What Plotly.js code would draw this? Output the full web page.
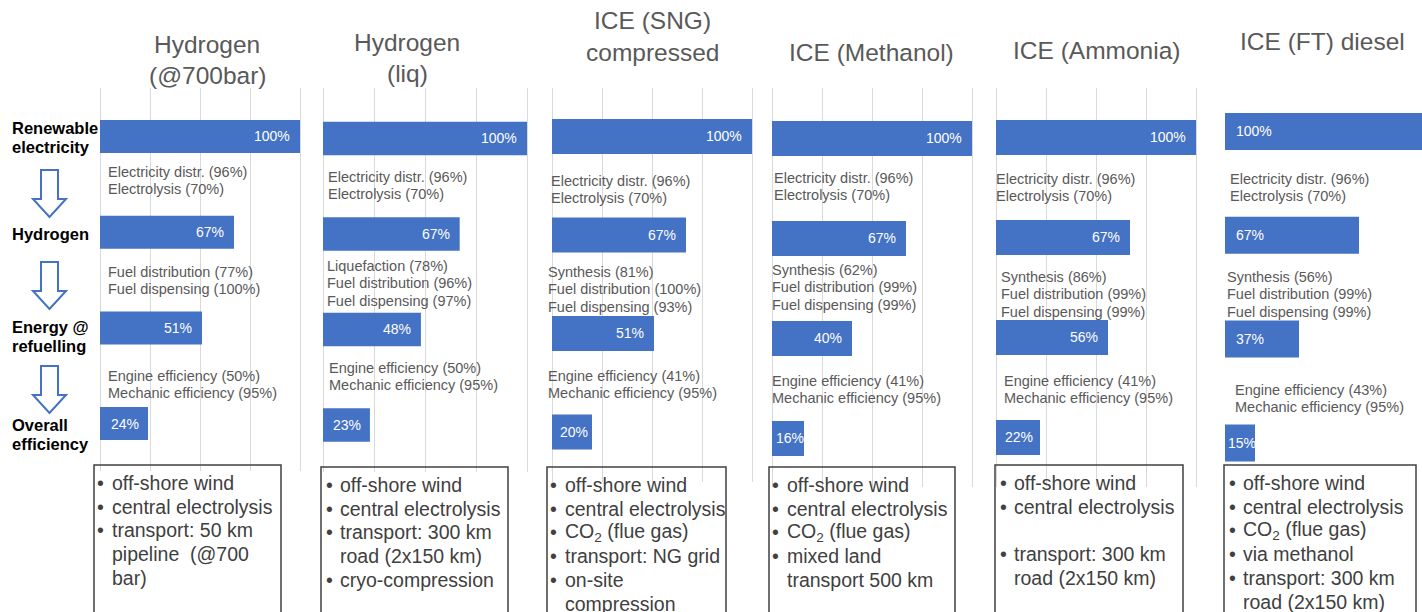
<!DOCTYPE html>
<html>
<head>
<meta charset="utf-8">
<script src="https://cdn.plot.ly/plotly-3.0.1.min.js"></script>
<style>
  html, body { margin: 0; padding: 0; background: #fff; }
  #chart { width: 1422px; height: 612px; }
</style>
</head>
<body>
<div id="chart"></div>
<script>
// Stages of the energy chain, top to bottom
const stages = ['Renewable electricity', 'Hydrogen', 'Energy @ refuelling', 'Overall efficiency'];
const stageLabelLines = [['Renewable', 'electricity'], ['Hydrogen'], ['Energy @', 'refuelling'], ['Overall', 'efficiency']];

// Pathway headings
const pathwayTitles = [
  ['Hydrogen', '(@700bar)'],
  ['Hydrogen', '(liq)'],
  ['ICE (SNG)', 'compressed'],
  ['ICE (Methanol)'],
  ['ICE (Ammonia)'],
  ['ICE (FT) diesel']
];

// Share of the renewable electricity left at each stage (%)
const effH2Compressed = [100, 67, 51, 24];
const effH2Liquid     = [100, 67, 48, 23];
const effSNG          = [100, 67, 51, 20];
const effMethanol     = [100, 67, 40, 16];
const effAmmonia      = [100, 67, 56, 22];
const effFTDiesel     = [100, 67, 37, 15];

// Conversion steps between the stages
const stepsElectrolysis = ['Electricity distr. (96%)', 'Electrolysis (70%)'];
const stepsH2Compressed = ['Fuel distribution (77%)', 'Fuel dispensing (100%)'];
const stepsH2Liquid     = ['Liquefaction (78%)', 'Fuel distribution (96%)', 'Fuel dispensing (97%)'];
const stepsSNG          = ['Synthesis (81%)', 'Fuel distribution (100%)', 'Fuel dispensing (93%)'];
const stepsMethanol     = ['Synthesis (62%)', 'Fuel distribution (99%)', 'Fuel dispensing (99%)'];
const stepsAmmonia      = ['Synthesis (86%)', 'Fuel distribution (99%)', 'Fuel dispensing (99%)'];
const stepsFTDiesel     = ['Synthesis (56%)', 'Fuel distribution (99%)', 'Fuel dispensing (99%)'];
const stepsFuelCell     = ['Engine efficiency (50%)', 'Mechanic efficiency (95%)'];
const stepsEngine41     = ['Engine efficiency (41%)', 'Mechanic efficiency (95%)'];
const stepsEngine43     = ['Engine efficiency (43%)', 'Mechanic efficiency (95%)'];

// Assumptions of each pathway (null = empty line)
const notesH2Compressed = [['off-shore wind'], ['central electrolysis'], ['transport: 50 km', 'pipeline  (@700', 'bar)']];
const notesH2Liquid     = [['off-shore wind'], ['central electrolysis'], ['transport: 300 km', 'road (2x150 km)'], ['cryo-compression']];
const notesSNG          = [['off-shore wind'], ['central electrolysis'], ['CO<sub>2</sub> (flue gas)'], ['transport: NG grid'], ['on-site', 'compression']];
const notesMethanol     = [['off-shore wind'], ['central electrolysis'], ['CO<sub>2</sub> (flue gas)'], ['mixed land', 'transport 500 km']];
const notesAmmonia      = [['off-shore wind'], ['central electrolysis'], null, ['transport: 300 km', 'road (2x150 km)']];
const notesFTDiesel     = [['off-shore wind'], ['central electrolysis'], ['CO<sub>2</sub> (flue gas)'], ['via methanol'], ['transport: 300 km', 'road (2x150 km)']];

const pathways = [
  { values: effH2Compressed, steps: [stepsElectrolysis, stepsH2Compressed, stepsFuelCell], notes: notesH2Compressed },
  { values: effH2Liquid,     steps: [stepsElectrolysis, stepsH2Liquid, stepsFuelCell],     notes: notesH2Liquid },
  { values: effSNG,          steps: [stepsElectrolysis, stepsSNG, stepsEngine41],          notes: notesSNG },
  { values: effMethanol,     steps: [stepsElectrolysis, stepsMethanol, stepsEngine41],     notes: notesMethanol },
  { values: effAmmonia,      steps: [stepsElectrolysis, stepsAmmonia, stepsEngine41],      notes: notesAmmonia },
  { values: effFTDiesel,     steps: [stepsElectrolysis, stepsFTDiesel, stepsEngine43],     notes: notesFTDiesel }
];

// ---- page geometry (pixels) ----
const W = 1422, H = 612;
const panels = [
  { x0: 100, x100: 300, grid: true, gridTop: 88, gridBottom: 471, c0: 136.5, gap: 95.7, barH: 33, labelAtStart: false,
    titleX: 207, titleY: [45, 75],
    stepPos: [[108, 171.5], [108, 271.5], [108, 375.5]],
    box: { x0: 94, x1: 281, top: 465, bulletX: 100, textX: 112, firstY: 483 } },
  { x0: 323, x100: 527, grid: true, gridTop: 88, gridBottom: 472, c0: 138.5, gap: 95.5, barH: 33.5, labelAtStart: false,
    titleX: 407, titleY: [43, 73],
    stepPos: [[328, 177], [327, 266], [329, 368]],
    box: { x0: 321, x1: 508, top: 467, bulletX: 329.5, textX: 340, firstY: 485 } },
  { x0: 552, x100: 752, grid: true, gridTop: 88, gridBottom: 482, c0: 136.5, gap: 98.5, barH: 35, labelAtStart: false,
    titleX: 652, titleY: [21, 52],
    stepPos: [[551, 181], [548, 272], [548, 376]],
    box: { x0: 547, x1: 726, top: 467, bulletX: 553.5, textX: 564.5, firstY: 485 } },
  { x0: 772, x100: 972, grid: true, gridTop: 88, gridBottom: 487, c0: 138.5, gap: 100, barH: 35, labelAtStart: false,
    titleX: 871, titleY: [52],
    stepPos: [[774, 178], [772, 270], [772, 381]],
    box: { x0: 769, x1: 955, top: 467, bulletX: 775, textX: 787, firstY: 485 } },
  { x0: 996, x100: 1196, grid: true, gridTop: 88, gridBottom: 487, c0: 137.5, gap: 100, barH: 35, labelAtStart: false,
    titleX: 1096, titleY: [50],
    stepPos: [[996, 179], [1001, 277], [1004, 381]],
    box: { x0: 995, x1: 1183, top: 465, bulletX: 1003, textX: 1014, firstY: 483 } },
  { x0: 1225, x100: 1425, grid: false, gridTop: 88, gridBottom: 470, c0: 131.5, gap: 103.8, barH: 37, labelAtStart: true,
    titleX: 1322, titleY: [42],
    stepPos: [[1230, 179], [1227, 277], [1235, 390]],
    box: { x0: 1224, x1: 1416, top: 465, bulletX: 1232, textX: 1243, firstY: 483 } }
];
const stageLabelY = [[128, 147], [234], [327, 346], [425, 444]];
const arrowTops = [170, 262, 366];

const FONT = '"Liberation Sans", Arial, Helvetica, sans-serif';
const BLUE = '#4472C4';
const STEP_GAP = 17.3, NOTE_GAP = 23.7;
const LABEL_SIZE = 14;

const px = x => x / W;
const py = y => 1 - y / H;

const data = [];
const annotations = [];
const shapes = [];
const layout = {
  width: W, height: H,
  margin: { l: 0, r: 0, t: 0, b: 0 },
  paper_bgcolor: '#ffffff', plot_bgcolor: 'rgba(0,0,0,0)',
  showlegend: false, hovermode: false,
  annotations: annotations, shapes: shapes
};

function textAt(text, x, y, size, color, anchor) {
  annotations.push({
    text: text, x: px(x), y: py(y), xref: 'paper', yref: 'paper',
    xanchor: anchor || 'left', yanchor: 'middle', showarrow: false,
    borderpad: 0, borderwidth: 0,
    font: { family: FONT, size: size, color: color }
  });
}

// rough width of a "NN%" label, used to keep short labels on their bar
function labelWidth(str) {
  let w = 0;
  for (const ch of str) w += ch === '%' ? 0.889 : 0.556;
  return w * LABEL_SIZE;
}

pathways.forEach((p, i) => {
  const g = panels[i];
  const k = i === 0 ? '' : String(i + 1);
  const ppu = (g.x100 - g.x0) / 100;
  const pad = 2;
  const right = Math.min(g.x100 + pad, W);

  layout['xaxis' + k] = {
    domain: [px(g.x0 - pad), px(right)],
    range: [-pad / ppu, (right - g.x0) / ppu],
    anchor: 'y' + k, showgrid: g.grid, gridcolor: '#d9d9d9', gridwidth: 1,
    tick0: 0, dtick: 25, showticklabels: false, ticks: '',
    zeroline: false, showline: false, fixedrange: true
  };
  layout['yaxis' + k] = {
    domain: [py(g.gridBottom), py(g.gridTop)],
    type: 'category', categoryorder: 'array', categoryarray: stages,
    range: [3 + (g.gridBottom - (g.c0 + 3 * g.gap)) / g.gap, -(g.c0 - g.gridTop) / g.gap],
    anchor: 'x' + k, showgrid: false, showticklabels: false, ticks: '',
    zeroline: false, showline: false, fixedrange: true
  };

  data.push({
    type: 'bar', orientation: 'h',
    x: p.values, y: stages,
    xaxis: 'x' + k, yaxis: 'y' + k,
    width: g.barH / g.gap,
    marker: { color: BLUE, line: { width: 0 } },
    hoverinfo: 'skip'
  });

  // value labels inside the bars
  p.values.forEach((v, j) => {
    const txt = v + '%';
    const room = v * ppu - labelWidth(txt);
    const inset = g.labelAtStart
      ? Math.max(3, Math.min(11, room))
      : Math.max(0, Math.min(10, (v * ppu - 34) / 1.5));
    annotations.push({
      text: txt, xref: 'x' + k, yref: 'y' + k,
      x: g.labelAtStart ? 0 : v, y: stages[j],
      xanchor: g.labelAtStart ? 'left' : 'right', yanchor: 'middle',
      xshift: g.labelAtStart ? inset : -inset,
      showarrow: false, borderpad: 0, borderwidth: 0,
      font: { family: FONT, size: LABEL_SIZE, color: '#ffffff' }
    });
  });

  // heading
  pathwayTitles[i].forEach((line, j) => textAt(line, g.titleX, g.titleY[j], 24.5, '#595959', 'center'));

  // conversion steps
  p.steps.forEach((lines, s) => {
    const [sx, sy] = g.stepPos[s];
    lines.forEach((line, j) => textAt(line, sx, sy + j * STEP_GAP, 14.5, '#595959', 'left'));
  });

  // assumptions box
  const b = g.box;
  shapes.push({
    type: 'rect', xref: 'paper', yref: 'paper',
    x0: px(b.x0), x1: px(b.x1), y0: py(H + 20), y1: py(b.top),
    line: { color: '#404040', width: 1.5 }, fillcolor: 'rgba(0,0,0,0)', layer: 'above'
  });
  let row = 0;
  p.notes.forEach(item => {
    if (item === null) { row++; return; }
    item.forEach((line, j) => {
      const y = b.firstY + row * NOTE_GAP;
      if (j === 0) textAt('•', b.bulletX, y, 19.5, '#404040', 'center');
      textAt(line, b.textX, y, 19.5, '#404040', 'left');
      row++;
    });
  });
});

// stage names on the left
stageLabelLines.forEach((lines, i) => {
  lines.forEach((line, j) => textAt('<b>' + line + '</b>', 12, stageLabelY[i][j], 16.5, '#000000', 'left'));
});

// hollow down arrows between the stages
arrowTops.forEach(top => {
  const sL = 41, sR = 58, hL = 33, hR = 66, tipX = 49.5;
  const base = top + 29, tip = top + 47;
  const pts = [[sL, top], [sR, top], [sR, base], [hR, base], [tipX, tip], [hL, base], [sL, base]];
  const path = pts.map((pt, n) => (n ? 'L' : 'M') + px(pt[0]).toFixed(5) + ',' + py(pt[1]).toFixed(5)).join(' ') + ' Z';
  shapes.push({
    type: 'path', xref: 'paper', yref: 'paper', path: path,
    line: { color: BLUE, width: 2 }, fillcolor: '#ffffff', layer: 'above'
  });
});

Plotly.newPlot('chart', data, layout, { displayModeBar: false, staticPlot: true });
</script>
</body>
</html>
